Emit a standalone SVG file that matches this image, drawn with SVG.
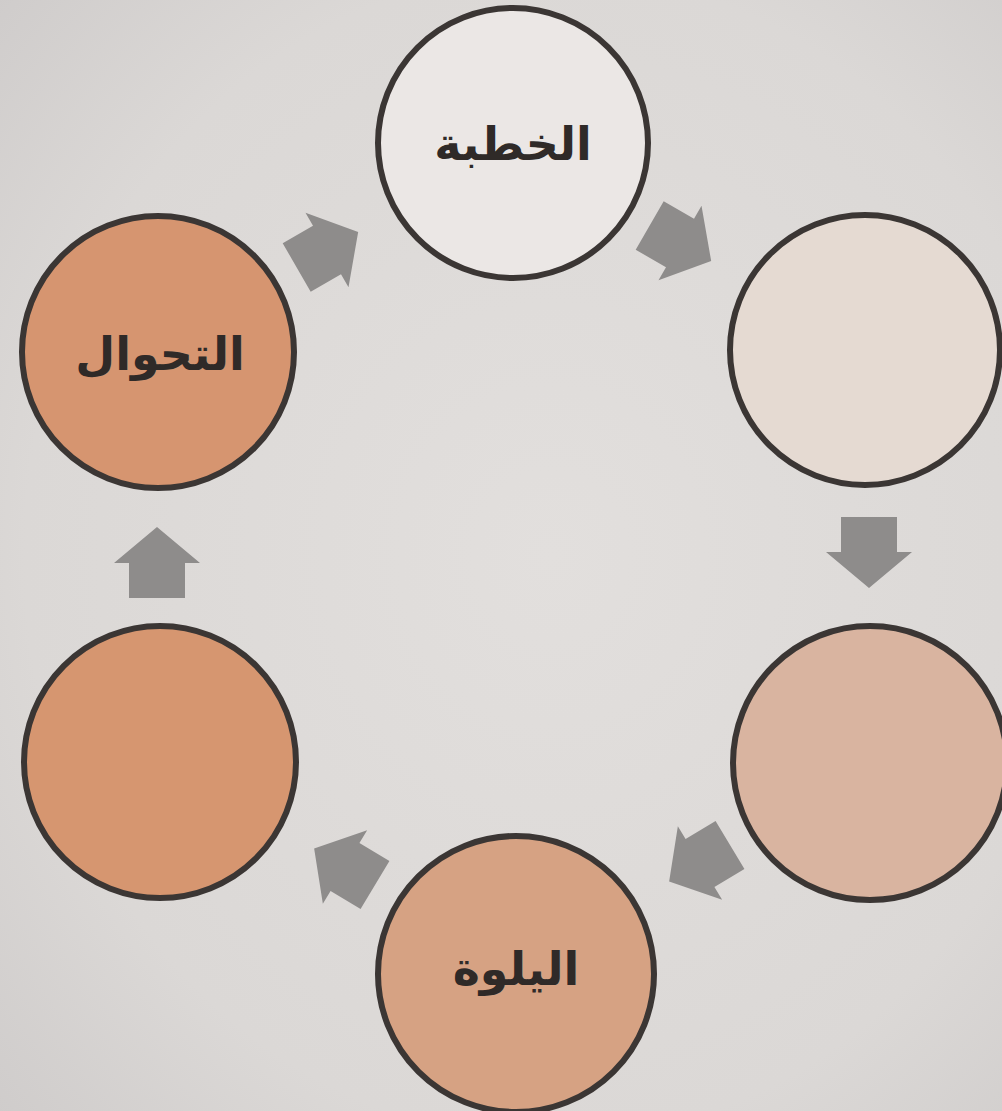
<svg xmlns="http://www.w3.org/2000/svg" width="1002" height="1111" viewBox="0 0 1002 1111">
<defs>
<radialGradient id="bg" cx="0.55" cy="0.5" r="0.75">
<stop offset="0" stop-color="#e2dfdd"/>
<stop offset="0.7" stop-color="#dbd8d6"/>
<stop offset="1" stop-color="#cfcccb"/>
</radialGradient>
<polygon id="arr" points="-35,-28 0,-28 0,-43 36,0 0,43 0,28 -35,28"/>
</defs>
<style>
.node{stroke:#3b3634;stroke-width:6}
.lbl{font-family:"DejaVu Sans",sans-serif;font-weight:bold;font-size:46px;fill:#2f2a28;text-anchor:middle}
.arrow{fill:#8e8c8b}
</style>
<rect width="1002" height="1111" fill="url(#bg)"/>
<g id="connectors" class="arrow">
<use href="#arr" transform="translate(327,250) rotate(-30)"/>
<use href="#arr" transform="translate(680,243) rotate(30)"/>
<use href="#arr" transform="translate(869,552) rotate(90)"/>
<use href="#arr" transform="translate(700,863) rotate(149)"/>
<use href="#arr" transform="translate(345,867) rotate(211)"/>
<use href="#arr" transform="translate(157,563) rotate(-90)"/>
</g>
<g id="node-khutba">
<circle class="node" cx="513" cy="143" r="135" fill="#ebe7e5"/>
<text class="lbl" x="513" y="160" direction="rtl">الخطبة</text>
</g>
<g id="node-upper-right">
<circle class="node" cx="865" cy="350" r="135" fill="#e5dad2"/>
</g>
<g id="node-lower-right">
<circle class="node" cx="870" cy="763" r="137" fill="#d9b4a0"/>
</g>
<g id="node-balwa">
<circle class="node" cx="516" cy="974" r="138" fill="#d6a283"/>
<text class="lbl" x="516" y="985" direction="rtl">اليلوة</text>
</g>
<g id="node-lower-left">
<circle class="node" cx="160" cy="762" r="136" fill="#d69670"/>
</g>
<g id="node-tahawwul">
<circle class="node" cx="158" cy="352" r="136" fill="#d69570"/>
<text class="lbl" x="160" y="370" direction="rtl">التحوال</text>
</g>
</svg>
